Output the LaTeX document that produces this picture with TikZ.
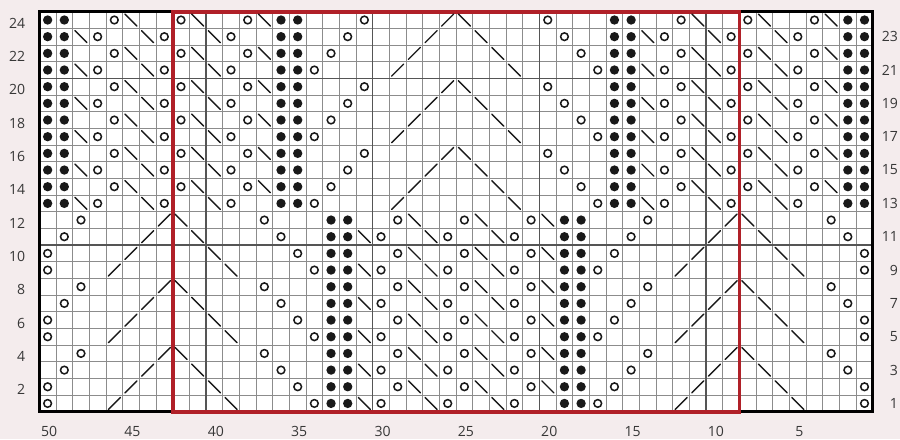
\documentclass[tikz,border=0pt]{standalone}
\usepackage{fontspec}
\setmainfont{Open Sans}
\definecolor{bgpink}{RGB}{244,236,237}
\definecolor{chartred}{RGB}{176,32,40}
\definecolor{gridgray}{RGB}{140,140,140}
\definecolor{griddark}{RGB}{85,85,85}
\definecolor{ink}{RGB}{25,25,25}
\definecolor{labelgray}{RGB}{55,55,55}
\tikzset{
  yostyle/.style={draw=ink, line width=1.3pt},
  decstyle/.style={draw=ink, line width=1.2pt, line cap=round},
  labelstyle/.style={text=labelgray, font=\fontsize{12}{14}\selectfont, inner sep=0pt},
}
\newcommand\symyo[2]{\draw[yostyle] ({#1+0.5},{#2-0.5}) circle (0.23);}
\newcommand\symdot[2]{\fill[ink] ({#1+0.5},{#2-0.5}) circle (0.28);}
\newcommand\symssk[2]{\draw[decstyle] ({#1+0.14},{#2-0.14}) -- ({#1+0.86},{#2-0.86});}
\newcommand\symktog[2]{\draw[decstyle] ({#1+0.14},{#2-0.86}) -- ({#1+0.86},{#2-0.14});}
\newcommand\symrep[3]{#1{#2}{#3}\pgfmathtruncatemacro\rpos{#2+34}\ifnum\rpos<50 #1{\rpos}{#3}\fi}
\begin{document}
\begin{tikzpicture}[x=0.5cm,y=0.5cm]
\useasboundingbox (-2.358,-1.643) rectangle (51.63,24.70);
\fill[bgpink] (-2.358,-1.643) rectangle (51.63,24.70);
\fill[white] (0,0) rectangle (50,24);
\draw[gridgray, line width=0.8pt, step=0.5cm] (0,0) grid (50,24);
\foreach \x in {10,20,30,40} \draw[griddark, line width=1.1pt] (\x,0) -- (\x,24);
\foreach \y in {10,20} \draw[griddark, line width=1.1pt] (0,\y) -- (50,\y);
\draw[black, line width=2.6pt] (0,0) rectangle (50,24);
\draw[chartred, line width=3.2pt] (8,0) rectangle (42,24);
% upper part, rows 13-24
\foreach \r in {13,...,24} {
  \pgfmathtruncatemacro\m{mod(24-\r,4)}
  \pgfmathtruncatemacro\oddrow{mod(\r,2)}
  \foreach \p in {0,1,14,15} {\symrep\symdot{\p}{\r}}
  \ifnum\oddrow=0
    \foreach \p in {4,8,12} {\symrep\symyo{\p}{\r}}
    \foreach \p in {5,9,13} {\symrep\symssk{\p}{\r}}
  \else
    \foreach \p in {2,6,10} {\symrep\symssk{\p}{\r}}
    \foreach \p in {3,7,11} {\symrep\symyo{\p}{\r}}
  \fi
  \pgfmathtruncatemacro\pa{19-\m}
  \pgfmathtruncatemacro\pb{24-\m}
  \pgfmathtruncatemacro\pc{25+\m}
  \pgfmathtruncatemacro\pd{30+\m}
  \symyo{\pa}{\r}
  \symktog{\pb}{\r}
  \symssk{\pc}{\r}
  \symyo{\pd}{\r}
}
% lower part, rows 1-12
\foreach \r in {1,...,12} {
  \pgfmathtruncatemacro\n{mod(12-\r,4)}
  \foreach \p in {17,18,31,32} {\symdot{\p}{\r}}
  \pgfmathtruncatemacro\pa{mod(36-\n,34)}
  \pgfmathtruncatemacro\pb{7-\n}
  \pgfmathtruncatemacro\pc{8+\n}
  \pgfmathtruncatemacro\pd{13+\n}
  \symrep\symyo{\pa}{\r}
  \symrep\symktog{\pb}{\r}
  \symrep\symssk{\pc}{\r}
  \symrep\symyo{\pd}{\r}
  \ifodd\n\relax
    \foreach \p in {19,23,27} {\symssk{\p}{\r}}
    \foreach \p in {20,24,28} {\symyo{\p}{\r}}
  \else
    \foreach \p in {21,25,29} {\symyo{\p}{\r}}
    \foreach \p in {22,26,30} {\symssk{\p}{\r}}
  \fi
  \ifnum\n=3 \symyo{0}{\r}\symyo{49}{\r}\fi
}
% labels
\foreach \r in {2,4,...,24} \node[labelstyle, anchor=east] (L\r) at (-0.83,\r-0.68) {\r};
\foreach \r in {1,3,...,23} \node[labelstyle, anchor=east] (R\r) at (51.52,\r-0.5) {\r};
\foreach \c in {50,45,...,5} \node[labelstyle, anchor=base] (B\c) at ({50-\c+0.59},-1.5) {\c};
\end{tikzpicture}
\end{document}
